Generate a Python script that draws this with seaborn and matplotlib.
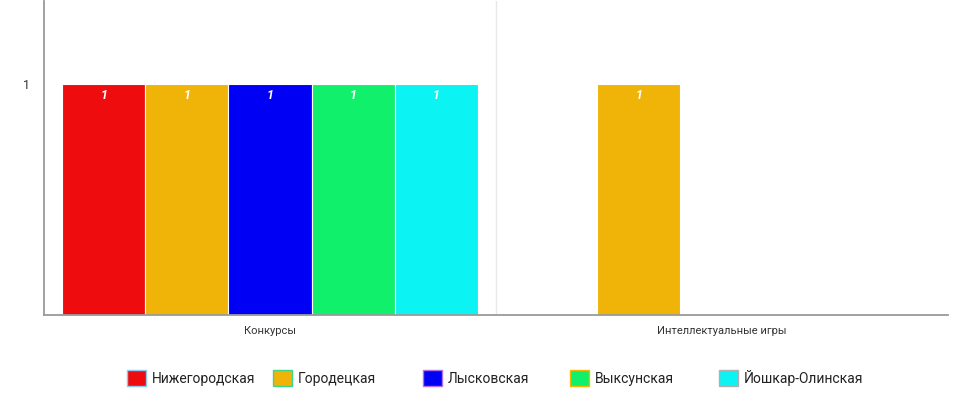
import matplotlib
matplotlib.use("Agg")
import matplotlib.pyplot as plt
from matplotlib.patches import Patch
import seaborn as sns
import pandas as pd

# ------------------------------------------------------------------
# DATA
# ------------------------------------------------------------------
CATEGORIES = ["Конкурсы", "Интеллектуальные игры"]
TEAMS = ["Нижегородская", "Городецкая", "Лысковская", "Выксунская", "Йошкар-Олинская"]
COLORS = ["#EE0C0E", "#F0B307", "#0000F5", "#10F06A", "#0CF3F3"]
LEGEND_EDGES = ["#8EC8F0", "#3DD68C", "#B070E0", "#F5B800", "#B0B0B0"]

KONKURSY = [1, 1, 1, 1, 1]
INTELLEKT = [None, 1, None, None, None]   # only Городецкая played

rows = []
for team, v in zip(TEAMS, KONKURSY):
    if v is not None:
        rows.append({"cat": CATEGORIES[0], "team": team, "value": v})
for team, v in zip(TEAMS, INTELLEKT):
    if v is not None:
        rows.append({"cat": CATEGORIES[1], "team": team, "value": v})
df = pd.DataFrame(rows)

# ------------------------------------------------------------------
# PLOT
# ------------------------------------------------------------------
sns.set_style("white")
plt.rcParams["font.family"] = ["Roboto", "DejaVu Sans"]

fig = plt.figure(figsize=(9.78, 3.97), dpi=100)
ax = fig.add_axes([44 / 978, 1 - 315 / 397, (948 - 44) / 978, 315 / 397 - 0.002])

sns.barplot(data=df, x="cat", y="value", hue="team", order=CATEGORIES,
            hue_order=TEAMS, palette=COLORS, saturation=1, width=0.92, gap=0,
            edgecolor="white", linewidth=0.8, legend=False, ax=ax)

for cont in ax.containers:
    ax.bar_label(cont, fmt="%g", label_type="edge", padding=-13,
                 color="white", fontsize=9, fontstyle="italic", fontweight="bold")

ax.set_xlim(-0.5, 1.5)
ax.set_ylim(0, 1.36)
ax.set_yticks([1])
ax.set_yticklabels(["1"])
ax.set_xlabel("")
ax.set_ylabel("")
ax.axvline(0.5, color="#e8e8e8", linewidth=1, zorder=0)

sns.despine(ax=ax)
for side in ["left", "bottom"]:
    ax.spines[side].set_color("#9a9a9a")
    ax.spines[side].set_linewidth(1.3)

ax.tick_params(axis="y", length=4, color="#dddddd", labelsize=9, labelcolor="#333333", pad=6)
ax.tick_params(axis="x", length=0, labelsize=8, labelcolor="#333333", pad=8)

# legend, one entry per fixed-width column
legend_x = [127, 273, 423, 570, 719]
for team, col, edge, x in zip(TEAMS, COLORS, LEGEND_EDGES, legend_x):
    h = Patch(facecolor=col, edgecolor=edge, linewidth=1)
    fig.legend(handles=[h], labels=[team], loc="center left",
               bbox_to_anchor=(x / 978, 1 - 378 / 397), frameon=False,
               fontsize=10, handlelength=1.4, handleheight=1.35,
               handletextpad=0.4, borderpad=0, borderaxespad=0,
               labelcolor="#222222")

fig.savefig("out.png", dpi=100)
plt.close(fig)
